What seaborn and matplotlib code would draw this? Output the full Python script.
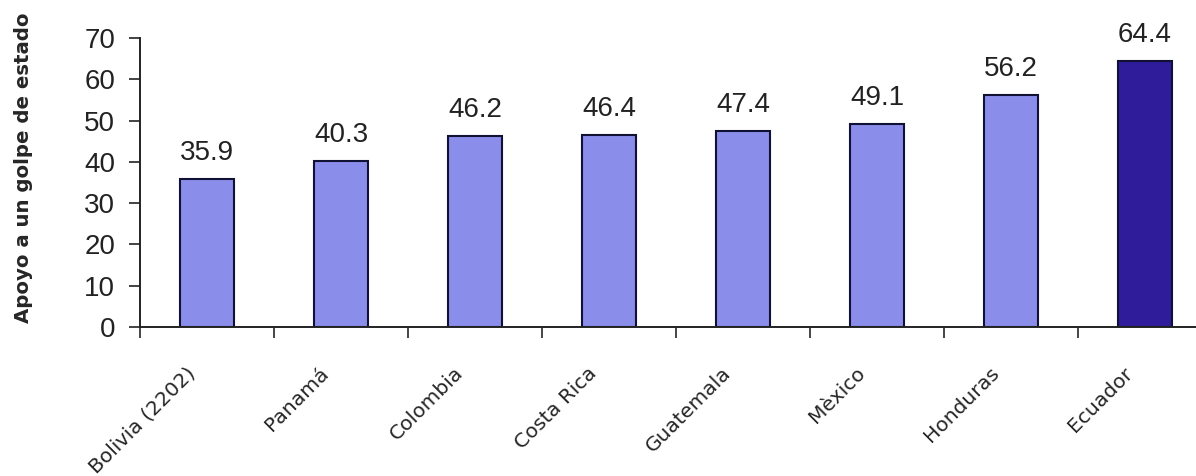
import pandas as pd
import seaborn as sns
import matplotlib.pyplot as plt
import matplotlib.transforms as mtransforms
import numpy as np

# Data
paises = ['Bolivia (2202)', 'Panamá', 'Colombia', 'Costa Rica', 'Guatemala',
          'Mèxico', 'Honduras', 'Ecuador']
apoyo = [35.9, 40.3, 46.2, 46.4, 47.4, 49.1, 56.2, 64.4]
colores = ['#8a8eea'] * 7 + ['#2e1c9a']

df = pd.DataFrame({'pais': paises, 'apoyo': apoyo})

sns.set_style('white')
plt.rcParams['font.family'] = ['Liberation Sans', 'DejaVu Sans']

fig = plt.figure(figsize=(11.96, 4.76), dpi=100)
ax = fig.add_axes([140 / 1196, 149 / 476, 1072 / 1196, 289 / 476])

sns.barplot(data=df, x='pais', y='apoyo', hue='pais', palette=colores, saturation=1,
            legend=False, width=0.41, edgecolor='#111133', linewidth=1.5, ax=ax)

for i, v in enumerate(apoyo):
    ax.text(i, v + 4.6, f'{v:.1f}', ha='center', va='baseline', fontsize=20, color='#222222')

ax.set_ylim(0, 70)
ax.set_xlim(-0.5, 7.5)
ax.set_yticks(range(0, 71, 10))
ax.tick_params(axis='y', labelsize=20, length=8, width=1.2, direction='out',
               left=True, pad=10, colors='#222222')

# ticks at category boundaries, labels at centres
ax.set_xticks(np.arange(-0.5, 8, 1))
ax.set_xticklabels([])
ax.tick_params(axis='x', which='major', length=8, width=1.2, direction='out', bottom=True)
ax.set_xticks(range(len(paises)), minor=True)
ax.set_xticklabels(paises, minor=True, rotation=45, ha='right', va='center',
                   rotation_mode='anchor', fontsize=14.6, family='DejaVu Sans')
ax.tick_params(axis='x', which='minor', length=0, pad=31)
shift = mtransforms.ScaledTranslation(-0.15, 0, fig.dpi_scale_trans)
for lbl in ax.get_xticklabels(minor=True):
    lbl.set_transform(lbl.get_transform() + shift)

ax.set_xlabel('')
ax.set_ylabel('Apoyo a un golpe de estado', fontsize=14.2, fontweight='bold',
              family='DejaVu Sans')
ax.yaxis.set_label_coords(-0.0995, 0.55)

sns.despine(ax=ax)
for s in ['left', 'bottom']:
    ax.spines[s].set_color('#222222')
    ax.spines[s].set_linewidth(1.4)

fig.savefig('out.png', dpi=100)
